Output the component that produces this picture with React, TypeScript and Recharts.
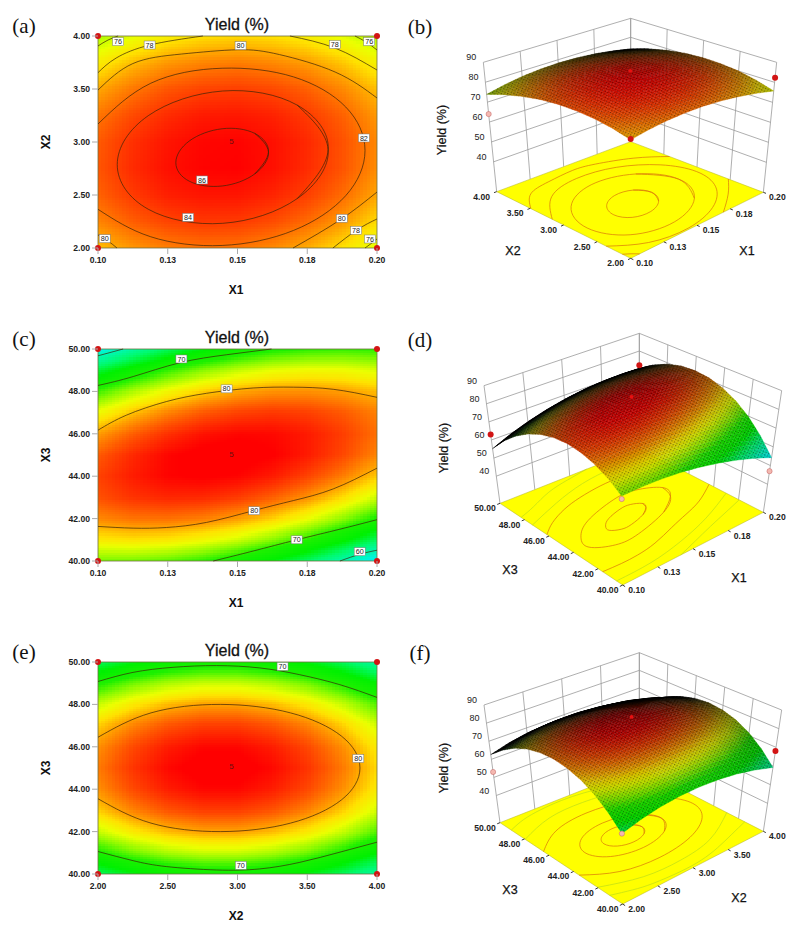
import React from "react";
import { ComposedChart, Line, Scatter, XAxis, YAxis, ReferenceArea } from "recharts";

type Pt = [number, number];

// axis ticks
const x1Ticks = [0.1, 0.125, 0.15, 0.175, 0.2];
const x1Labels = ["0.10", "0.13", "0.15", "0.18", "0.20"];
const x2Ticks = [2, 2.5, 3, 3.5, 4];
const x2Labels = ["2.00", "2.50", "3.00", "3.50", "4.00"];
const x3Ticks = [40, 42, 44, 46, 48, 50];
const x3Labels = ["40.00", "42.00", "44.00", "46.00", "48.00", "50.00"];
const zTicks = [40, 50, 60, 70, 80, 90];

// grid positions of the yield readings
const x1Grid = [0.1, 0.1125, 0.125, 0.1375, 0.15, 0.1625, 0.175, 0.1875, 0.2];
const x2Grid = [2, 2.25, 2.5, 2.75, 3, 3.25, 3.5, 3.75, 4];
const x2Rows = [4, 3.75, 3.5, 3.25, 3, 2.75, 2.5, 2.25, 2];
const x3Rows = [50, 49, 48, 47, 46, 45, 44, 43, 42, 41, 40];

// yield, rows X2 = 4 .. 2
const yieldA = [
  [73.9, 75.8, 77.2, 78.0, 78.3, 78.0, 77.2, 75.8, 73.9],
  [77.3, 79.2, 80.5, 81.2, 81.5, 81.1, 80.3, 78.9, 76.9],
  [79.9, 81.7, 83.0, 83.7, 83.9, 83.5, 82.6, 81.1, 79.1],
  [81.8, 83.5, 84.7, 85.4, 85.5, 85.1, 84.1, 82.6, 80.5],
  [82.8, 84.5, 85.6, 86.2, 86.3, 85.8, 84.8, 83.2, 81.1],
  [83.0, 84.7, 85.8, 86.3, 86.4, 85.8, 84.7, 83.1, 80.9],
  [82.5, 84.1, 85.2, 85.6, 85.6, 85.0, 83.9, 82.2, 80.0],
  [81.2, 82.7, 83.7, 84.2, 84.1, 83.4, 82.2, 80.5, 78.2],
  [79.1, 80.6, 81.5, 81.9, 81.8, 81.1, 79.8, 78.0, 75.7],
];

// yield, rows X3 = 50 .. 40
const yieldC = [
  [55.2, 59.3, 62.7, 65.5, 67.7, 69.3, 70.2, 70.5, 70.2],
  [63.8, 67.4, 70.4, 72.8, 74.6, 75.8, 76.3, 76.2, 75.4],
  [70.8, 74.0, 76.6, 78.6, 80.0, 80.7, 80.8, 80.3, 79.2],
  [76.3, 79.1, 81.3, 82.9, 83.8, 84.2, 83.9, 82.9, 81.4],
  [80.3, 82.7, 84.5, 85.7, 86.2, 86.1, 85.4, 84.0, 82.0],
  [82.8, 84.8, 86.2, 86.9, 87.0, 86.5, 85.4, 83.6, 81.2],
  [83.8, 85.3, 86.3, 86.6, 86.3, 85.4, 83.8, 81.6, 78.8],
  [83.2, 84.4, 84.9, 84.8, 84.1, 82.7, 80.8, 78.2, 75.0],
  [81.1, 81.9, 82.0, 81.5, 80.3, 78.6, 76.2, 73.2, 69.6],
  [77.5, 77.9, 77.6, 76.6, 75.1, 72.9, 70.1, 66.7, 62.6],
  [72.4, 72.3, 71.6, 70.3, 68.3, 65.7, 62.5, 58.7, 54.2],
];

// yield, rows X3 = 50 .. 40
const yieldE = [
  [62.6, 65.3, 67.1, 68.0, 68.0, 67.1, 65.4, 62.7, 59.2],
  [69.4, 72.1, 73.9, 74.8, 74.8, 73.9, 72.2, 69.5, 66.0],
  [74.8, 77.5, 79.3, 80.2, 80.2, 79.3, 77.6, 74.9, 71.4],
  [78.6, 81.3, 83.1, 84.0, 84.0, 83.1, 81.4, 78.7, 75.2],
  [80.8, 83.5, 85.3, 86.2, 86.2, 85.3, 83.6, 80.9, 77.4],
  [81.6, 84.3, 86.1, 87.0, 87.0, 86.1, 84.4, 81.7, 78.2],
  [80.8, 83.5, 85.3, 86.2, 86.2, 85.3, 83.6, 80.9, 77.4],
  [78.6, 81.3, 83.1, 84.0, 84.0, 83.1, 81.4, 78.7, 75.2],
  [74.8, 77.5, 79.3, 80.2, 80.2, 79.3, 77.6, 74.9, 71.4],
  [69.4, 72.1, 73.9, 74.8, 74.8, 73.9, 72.2, 69.5, 66.0],
  [62.6, 65.3, 67.1, 68.0, 68.0, 67.1, 65.4, 62.7, 59.2],
];

// contour lines panel (a), closed ones overlap a little where they meet
const a86: Pt[] = [[0.1562, 2.699], [0.1611, 2.905], [0.1562, 3.081], [0.1445, 3.125], [0.1328, 3.011], [0.1279, 2.805], [0.1328, 2.629], [0.1445, 2.585], [0.1562, 2.699], [0.1611, 2.905], [0.1562, 3.081]];
const a84: Pt[] = [[0.1714, 2.466], [0.1825, 2.927], [0.1714, 3.348], [0.1447, 3.481], [0.118, 3.248], [0.1069, 2.787], [0.118, 2.366], [0.1447, 2.233], [0.1714, 2.466], [0.1825, 2.927], [0.1714, 3.348]];
const a82: Pt[] = [[0.1, 3.17], [0.1189, 3.554], [0.1445, 3.696], [0.1701, 3.614], [0.1888, 3.33], [0.1957, 2.92], [0.1888, 2.494], [0.1701, 2.166], [0.1445, 2.024], [0.1189, 2.106], [0.1, 2.365]];
const a80Top: Pt[] = [[0.1, 3.49], [0.1125, 3.74], [0.13, 3.83], [0.15, 3.87], [0.165, 3.825], [0.185, 3.66], [0.2, 3.415]];
const a80Left: Pt[] = [[0.1, 2.123], [0.1036, 2.066], [0.1068, 2.0]];
const a80Right: Pt[] = [[0.1699, 2.0], [0.1867, 2.264], [0.2, 2.528]];
const a78Left: Pt[] = [[0.1, 3.654], [0.1065, 3.792], [0.1186, 3.915], [0.1376, 4.0]];
const a78Right: Pt[] = [[0.1688, 4.0], [0.1849, 3.887], [0.2, 3.679]];
const a78Low: Pt[] = [[0.1842, 2.0], [0.1928, 2.17], [0.2, 2.274]];
const a76Left: Pt[] = [[0.1, 3.906], [0.1036, 3.962], [0.1072, 4.0]];
const a76Right: Pt[] = [[0.1921, 4.0], [0.1961, 3.943], [0.2, 3.868]];
const a76Low: Pt[] = [[0.1957, 2.0], [0.1978, 2.04], [0.2, 2.085]];

// contour lines panel (c)
const c60Top: Pt[] = [[0.1, 49.68], [0.109, 50]];
const c70Top: Pt[] = [[0.1, 48.28], [0.1126, 48.7], [0.1293, 49.35], [0.1461, 49.73], [0.1622, 50]];
const c80Top: Pt[] = [[0.1, 46.17], [0.1102, 46.88], [0.1245, 47.52], [0.1389, 47.91], [0.1556, 48.16], [0.17, 48.2], [0.1843, 48.1], [0.2, 47.72]];
const c80Low: Pt[] = [[0.1, 41.63], [0.1126, 41.55], [0.1245, 41.58], [0.1389, 41.82], [0.1556, 42.37], [0.17, 42.85], [0.1843, 43.4], [0.2, 44.38]];
const c70Low: Pt[] = [[0.1413, 40], [0.1556, 40.47], [0.1712, 41], [0.1867, 41.5], [0.2, 41.95]];
const c60Low: Pt[] = [[0.1867, 40], [0.1939, 40.32], [0.2, 40.51]];
// extra lines only seen on the floor of (d)
const d86: Pt[] = [[0.153, 44.4], [0.1591, 44.85], [0.1605, 45.3], [0.1549, 45.64], [0.1476, 45.64], [0.1364, 45.3], [0.1303, 44.85], [0.1289, 44.4], [0.1345, 44.06], [0.1418, 44.06], [0.153, 44.4], [0.1591, 44.85], [0.1605, 45.3]];
const d85: Pt[] = [[0.163, 43.85], [0.1766, 44.85], [0.1797, 45.85], [0.1673, 46.6], [0.1511, 46.6], [0.1264, 45.85], [0.1127, 44.85], [0.1097, 43.85], [0.1221, 43.1], [0.1383, 43.1], [0.163, 43.85], [0.1766, 44.85], [0.1797, 45.85]];
const d75Top: Pt[] = [[0.1, 47.35], [0.125, 48.25], [0.15, 48.95], [0.175, 49.2], [0.2, 49.05]];
const d75Low: Pt[] = [[0.1, 40.5], [0.125, 40.55], [0.15, 41], [0.175, 41.8], [0.2, 43]];

// contour lines panel (e)
const e70Top: Pt[] = [[2, 49.08], [2.251, 49.51], [2.538, 49.75], [2.849, 49.83], [3.16, 49.72], [3.447, 49.4], [3.734, 48.93], [4, 48.33]];
const e70Low: Pt[] = [[2, 41.06], [2.251, 40.63], [2.49, 40.35], [2.849, 40.19], [3.16, 40.24], [3.447, 40.55], [3.734, 41.03], [4, 41.5]];
const e80: Pt[] = [[2, 46.45], [2.38, 47.6], [2.88, 48], [3.38, 47.6], [3.746, 46.5], [3.878, 45], [3.746, 43.5], [3.38, 42.4], [2.88, 42], [2.38, 42.4], [2, 43.55]];
// extra lines only seen on the floor of (f)
const f86: Pt[] = [[3.07, 44.37], [3.15, 45], [3.07, 45.63], [2.88, 45.89], [2.69, 45.63], [2.61, 45], [2.69, 44.37], [2.88, 44.11], [3.07, 44.37], [3.15, 45], [3.07, 45.63]];
const f85: Pt[] = [[3.265, 43.83], [3.424, 45], [3.265, 46.17], [2.88, 46.66], [2.495, 46.17], [2.336, 45], [2.495, 43.83], [2.88, 43.34], [3.265, 43.83], [3.424, 45], [3.265, 46.17]];
const f75Top: Pt[] = [[2, 47.95], [2.5, 48.82], [3, 48.98], [3.5, 48.52], [4, 47.05]];
const f75Low: Pt[] = [[2, 42.05], [2.5, 41.18], [3, 41.02], [3.5, 41.48], [4, 42.95]];

// contour labels
const labelsA: [number, number, string][] = [[0.1072, 3.947, "76"], [0.1185, 3.915, "78"], [0.1511, 3.909, "80"], [0.1849, 3.92, "78"], [0.1972, 3.947, "76"], [0.1953, 3.038, "82"], [0.1373, 2.642, "86"], [0.1323, 2.289, "84"], [0.1874, 2.28, "80"], [0.1925, 2.167, "78"], [0.1975, 2.085, "76"], [0.1024, 2.088, "80"]];
const labelsC: [number, number, string][] = [[0.1299, 49.53, "70"], [0.1461, 48.12, "80"], [0.156, 42.37, "80"], [0.1712, 41, "70"], [0.1938, 40.44, "60"]];
const labelsE: [number, number, string][] = [[3.323, 49.79, "70"], [3.866, 45.45, "80"], [3.024, 40.41, "70"]];

// centre point marks
const centreA: Pt = [0.1478, 3.01];
const centreC: Pt = [0.1478, 45.06];
const centreE: Pt = [2.957, 45.09];

// design points on the 3D plots [x, y, yield]
const redB = [[0.2, 2, 82.3], [0.1, 2, 79.5]];
const pinkB = [[0.1, 4, 64]];
const midB = [[0.15, 3, 87]];
const redD = [[0.1, 50, 63], [0.2, 50, 72]];
const pinkD = [[0.2, 40, 47], [0.1, 40, 70.8]];
const midD = [[0.15, 45, 88]];
const redF = [[4, 40, 68]];
const pinkF = [[2, 50, 53], [2, 40, 62.6]];
const midF = [[3, 45, 87.6]];

const stops: [number, number, number, number][] = [
  [50, 0, 190, 255],
  [56, 0, 245, 225],
  [62, 0, 250, 110],
  [66, 0, 240, 0],
  [70, 30, 240, 0],
  [73, 140, 250, 0],
  [76, 235, 255, 0],
  [78, 255, 225, 0],
  [80, 255, 165, 0],
  [83, 255, 85, 0],
  [86.4, 255, 0, 0],
];

const rgbAt = (v: number): number[] => {
  if (v <= stops[0][0]) return stops[0].slice(1);
  for (let i = 1; i < stops.length; i++) {
    if (v <= stops[i][0]) {
      const a = stops[i - 1];
      const b = stops[i];
      const f = (v - a[0]) / (b[0] - a[0]);
      return [1, 2, 3].map((k) => a[k] + (b[k] - a[k]) * f);
    }
  }
  return stops[stops.length - 1].slice(1);
};

const fillOf = (v: number, dark = 0) => {
  const c = rgbAt(v).map((k) => Math.round(k * (1 - dark)));
  return `rgb(${c[0]},${c[1]},${c[2]})`;
};

// one grid cell shaded across its four corners
const Patch = (props: any) => {
  const { cx, cy, payload } = props;
  const { corners, steps, texture } = payload;
  const mix = (u: number, w: number, k: number) =>
    corners[0][k] * (1 - u) * (1 - w) +
    corners[1][k] * u * (1 - w) +
    corners[2][k] * u * w +
    corners[3][k] * (1 - u) * w;
  const polys = [];
  for (let i = 0; i < steps; i++) {
    for (let j = 0; j < steps; j++) {
      const u0 = i / steps;
      const u1 = (i + 1) / steps;
      const w0 = j / steps;
      const w1 = (j + 1) / steps;
      const pts = [
        [u0, w0],
        [u1, w0],
        [u1, w1],
        [u0, w1],
      ]
        .map(([u, w]) => `${(cx + mix(u, w, 0)).toFixed(2)},${(cy + mix(u, w, 1)).toFixed(2)}`)
        .join(" ");
      const uc = (u0 + u1) / 2;
      const wc = (w0 + w1) / 2;
      const fill = fillOf(mix(uc, wc, 2), mix(uc, wc, 3));
      polys.push(
        texture ? (
          <polygon key={`${i}-${j}`} points={pts} fill={fill} stroke={fill} strokeWidth={0.35} />
        ) : (
          <polygon key={`${i}-${j}`} points={pts} fill={fill} shapeRendering="crispEdges" />
        )
      );
    }
  }
  const outline = corners.map((c: number[]) => `${cx + c[0]},${cy + c[1]}`).join(" ");
  return (
    <g>
      {polys}
      {texture && <polygon points={outline} fill="url(#meshDots)" />}
    </g>
  );
};

const Dot = ({ cx, cy }: any) => <circle cx={cx} cy={cy} r={3} fill="#d21414" />;
const MidDot = ({ cx, cy }: any) => <circle cx={cx} cy={cy} r={1.9} fill="#e81010" />;
const PinkDot = ({ cx, cy }: any) => <circle cx={cx} cy={cy} r={2.6} fill="#f4b8b0" stroke="#c06060" strokeWidth={0.5} />;

const ContourTag = ({ cx, cy, payload }: any) => (
  <g>
    <rect x={cx - 5.5} y={cy - 4} width={11} height={8} fill="#fff" stroke="#777" strokeWidth={0.5} />
    <text x={cx} y={cy + 2.6} textAnchor="middle" fontSize={7.2} fontFamily="Liberation Sans" fill="#222">
      {payload.text}
    </text>
  </g>
);

const CentreTag = ({ cx, cy }: any) => (
  <text x={cx} y={cy + 3} textAnchor="middle" fontSize={8} fontFamily="Liberation Sans" fill="#6a1010">
    5
  </text>
);

const Caption = ({ left, top, size, family, weight, rotate, stroke, children }: any) => (
  <div
    style={{
      position: "absolute",
      left,
      top,
      transform: `translate(-50%,-50%) rotate(${rotate || 0}deg)`,
      fontSize: size,
      fontFamily: family || "Liberation Sans",
      fontWeight: weight || 400,
      color: "#111",
      whiteSpace: "nowrap",
      lineHeight: 1,
      WebkitTextStroke: stroke ? `${stroke}px #111` : undefined,
    }}
  >
    {children}
  </div>
);

const PLOT_W = 279;
const PLOT_H = 212;
const axisFont = { fontSize: 8.6, fontFamily: "Liberation Sans", fontWeight: 700, fill: "#222" };

const ContourPanel = ({ top, letter, xs, ys, grid, xTicks, xLabels, yTicks, yLabels, xName, yName, lines, tags, centre }: any) => {
  const dx = PLOT_W / (xs.length - 1);
  const dy = PLOT_H / (ys.length - 1);
  const cells: any[] = [];
  for (let r = 0; r < ys.length - 1; r++) {
    for (let c = 0; c < xs.length - 1; c++) {
      cells.push({
        x: xs[c],
        y: ys[r],
        steps: 10,
        corners: [
          [0, 0, grid[r][c], 0],
          [dx, 0, grid[r][c + 1], 0],
          [dx, dy, grid[r + 1][c + 1], 0],
          [0, dy, grid[r + 1][c], 0],
        ],
      });
    }
  }
  const xEnds = [xTicks[0], xTicks[xTicks.length - 1]];
  const yEnds = [yTicks[0], yTicks[yTicks.length - 1]];
  const corners = xEnds.flatMap((x: number) => yEnds.map((y: number) => ({ x, y })));
  return (
    <div style={{ position: "absolute", left: 0, top, width: 400, height: 310 }}>
      <Caption left={24} top={26} size={21} family="Liberation Serif">
        {letter}
      </Caption>
      <Caption left={237} top={25} size={16} stroke={0.3}>
        Yield (%)
      </Caption>
      <Caption left={236} top={290} size={12} weight={700}>
        {xName}
      </Caption>
      <Caption left={46} top={142} size={12} weight={700} rotate={-90}>
        {yName}
      </Caption>
      <ComposedChart width={400} height={310} margin={{ top: 36, right: 23, bottom: 12, left: 48 }}>
        <XAxis
          dataKey="x"
          type="number"
          domain={xEnds}
          ticks={xTicks}
          interval={0}
          height={50}
          tickSize={6}
          tickMargin={3}
          tickLine={{ stroke: "#aaa" }}
          axisLine={false}
          tick={axisFont}
          tickFormatter={(v: number) => xLabels[xTicks.indexOf(v)]}
        />
        <YAxis
          dataKey="y"
          type="number"
          domain={yEnds}
          ticks={yTicks}
          interval={0}
          width={50}
          tickSize={6}
          tickMargin={2}
          tickLine={{ stroke: "#aaa" }}
          axisLine={false}
          tick={axisFont}
          tickFormatter={(v: number) => yLabels[yTicks.indexOf(v)]}
        />
        <Scatter data={cells} shape={Patch} isAnimationActive={false} zIndex={100} />
        <ReferenceArea x1={xEnds[0]} x2={xEnds[1]} y1={yEnds[0]} y2={yEnds[1]} fill="none" stroke="#6f7040" strokeWidth={0.8} zIndex={150} />
        {lines.map((pts: Pt[], i: number) => (
          <Line
            key={i}
            data={pts.map(([x, y]) => ({ x, y }))}
            dataKey="y"
            type="natural"
            stroke="#3a2408"
            strokeWidth={0.7}
            dot={false}
            activeDot={false}
            isAnimationActive={false}
            zIndex={200}
          />
        ))}
        <Scatter data={tags.map(([x, y, text]: any) => ({ x, y, text }))} shape={ContourTag} isAnimationActive={false} zIndex={300} />
        <Scatter data={[{ x: centre[0], y: centre[1] }]} shape={CentreTag} isAnimationActive={false} zIndex={300} />
        <Scatter data={corners} shape={Dot} isAnimationActive={false} zIndex={300} />
      </ComposedChart>
    </div>
  );
};

// base and top corners of the 3D box, front / right / back / left
const geoB = { base: [[692, 775], [1090, 577], [692, 425], [290, 575]], roof: [[692, 348], [1130, 187], [692, 55], [250, 187]] };
const geoD = { base: [[668, 795], [1090, 577], [718, 385], [300, 550]], roof: [[664, 429], [1145, 212], [718, 40], [252, 197]] };
const geoF = { base: [[668, 822], [1090, 604], [718, 413], [300, 578]], roof: [[664, 457], [1145, 240], [718, 68], [252, 225]] };
const Z_LOW = 25;
const Z_HIGH = 90;

const makeProjector = (geo: any) => (s: number, t: number, z: number) => {
  const bilerp = (q: number[][], k: number) =>
    q[0][k] * (1 - s) * (1 - t) + q[1][k] * s * (1 - t) + q[2][k] * s * t + q[3][k] * (1 - s) * t;
  const f = (z - Z_LOW) / (Z_HIGH - Z_LOW);
  return {
    px: (bilerp(geo.base, 0) * (1 - f) + bilerp(geo.roof, 0) * f) / 3,
    py: (bilerp(geo.base, 1) * (1 - f) + bilerp(geo.roof, 1) * f) / 3,
  };
};

const Label3d = ({ cx, cy, payload }: any) => (
  <text x={cx + payload.ox} y={cy + payload.oy} textAnchor="middle" fontSize={payload.size} fontWeight={payload.weight} fontFamily="Liberation Sans" fill="#222">
    {payload.text}
  </text>
);

const wireProps = { dataKey: "py", type: "linear" as const, dot: false, activeDot: false, isAnimationActive: false };

const SurfacePanel = ({ top, letter, letterTop, geo, xs, ys, grid, xTicks, xLabels, yTicks, yLabels, floorLines, red, pink, mid, titles }: any) => {
  const project = makeProjector(geo);
  const xMin = xs[0];
  const xSpan = xs[xs.length - 1] - xMin;
  const yMin = Math.min(...ys);
  const ySpan = Math.max(...ys) - yMin;
  const toS = (x: number) => (x - xMin) / xSpan;
  const toT = (y: number) => (y - yMin) / ySpan;

  const nodes = ys.map((y: number, r: number) => xs.map((x: number, c: number) => project(toS(x), toT(y), grid[r][c])));
  const rawArea = (r: number, c: number) => {
    const r0 = Math.max(r - 1, 0);
    const r1 = Math.min(r + 1, ys.length - 1);
    const c0 = Math.max(c - 1, 0);
    const c1 = Math.min(c + 1, xs.length - 1);
    const ax = (nodes[r][c1].px - nodes[r][c0].px) / (c1 - c0);
    const ay = (nodes[r][c1].py - nodes[r][c0].py) / (c1 - c0);
    const bx = (nodes[r1][c].px - nodes[r0][c].px) / (r1 - r0);
    const by = (nodes[r1][c].py - nodes[r0][c].py) / (r1 - r0);
    return Math.abs(ax * by - ay * bx);
  };
  const areas = ys.map((_: number, r: number) => xs.map((_x: number, c: number) => rawArea(r, c)));
  const maxArea = Math.max(...areas.flat());
  const darkAt = (r: number, c: number) => Math.min(1, 0.13 + 1.2 * Math.pow(1 - areas[r][c] / maxArea, 2.4));

  // back to front so the nearer cells paint over the ridge
  const cells: any[] = [];
  for (let r = 0; r < ys.length - 1; r++) {
    for (let c = xs.length - 2; c >= 0; c--) {
      const n = nodes[r][c];
      const corner = (rr: number, cc: number) => [nodes[rr][cc].px - n.px, nodes[rr][cc].py - n.py, grid[rr][cc], darkAt(rr, cc)];
      cells.push({
        px: n.px,
        py: n.py,
        steps: 5,
        texture: true,
        corners: [corner(r, c), corner(r, c + 1), corner(r + 1, c + 1), corner(r + 1, c)],
      });
    }
  }

  const f0 = project(0, 0, Z_LOW);
  const floorCorner = (s: number, t: number) => {
    const p = project(s, t, Z_LOW);
    return [p.px - f0.px, p.py - f0.py, 0, 0];
  };
  const FloorShape = ({ cx, cy }: any) => (
    <polygon
      points={[floorCorner(0, 0), floorCorner(1, 0), floorCorner(1, 1), floorCorner(0, 1)].map((c) => `${cx + c[0]},${cy + c[1]}`).join(" ")}
      fill="#ffff00"
      stroke="#b0b020"
      strokeWidth={0.5}
    />
  );

  const wires: any[][] = [];
  xTicks.forEach((x: number) => wires.push([project(toS(x), 1, Z_LOW), project(toS(x), 1, Z_HIGH)]));
  yTicks.forEach((y: number) => wires.push([project(1, toT(y), Z_LOW), project(1, toT(y), Z_HIGH)]));
  zTicks.forEach((z: number) => wires.push([project(0, 1, z), project(1, 1, z), project(1, 0, z)]));

  const marks: any[][] = [];
  const labels: any[] = [];
  xTicks.forEach((x: number, i: number) => {
    marks.push([project(toS(x), 0, Z_LOW), project(toS(x), -0.02, Z_LOW)]);
    labels.push({ ...project(toS(x), 0, Z_LOW), ox: 14, oy: 8, text: xLabels[i], size: 8.6, weight: 700 });
  });
  yTicks.forEach((y: number, i: number) => {
    marks.push([project(0, toT(y), Z_LOW), project(-0.02, toT(y), Z_LOW)]);
    labels.push({ ...project(0, toT(y), Z_LOW), ox: -15, oy: 8, text: yLabels[i], size: 8.6, weight: 700 });
  });
  zTicks.forEach((z: number) => labels.push({ ...project(0, 1, z), ox: -12, oy: -2, text: String(z), size: 9, weight: 400 }));

  const toPoints = (list: number[][]) => list.map(([x, y, z]) => project(toS(x), toT(y), z));

  return (
    <div style={{ position: "absolute", left: 400, top, width: 398, height: 310 }}>
      <Caption left={20} top={letterTop} size={21} family="Liberation Serif">
        {letter}
      </Caption>
      <Caption left={titles.z[0]} top={titles.z[1]} size={12.5} rotate={-90} stroke={0.2}>
        Yield (%)
      </Caption>
      <Caption left={titles.a[0]} top={titles.a[1]} size={12.5} stroke={0.25}>
        {titles.a[2]}
      </Caption>
      <Caption left={titles.b[0]} top={titles.b[1]} size={12.5} stroke={0.25}>
        {titles.b[2]}
      </Caption>
      <ComposedChart width={398} height={310} margin={{ top: 0, right: 0, bottom: 0, left: 0 }}>
        <XAxis dataKey="px" type="number" domain={[0, 398]} hide />
        <YAxis dataKey="py" type="number" domain={[0, 310]} reversed hide />
        {wires.map((pts, i) => (
          <Line key={`w${i}`} data={pts} stroke="#9a9a9a" strokeWidth={0.8} zIndex={10} {...wireProps} />
        ))}
        <Scatter data={[f0]} shape={FloorShape} isAnimationActive={false} zIndex={20} />
        {floorLines.map((l: any, i: number) => (
          <Line
            key={`f${i}`}
            data={l.pts.map(([x, y]: Pt) => project(toS(x), toT(y), Z_LOW))}
            stroke={l.level >= 78 ? "#d8720a" : "#bcdc18"}
            strokeWidth={0.7}
            zIndex={30}
            {...wireProps}
            type="natural"
          />
        ))}
        {marks.map((pts, i) => (
          <Line key={`m${i}`} data={pts} stroke="#222" strokeWidth={0.9} zIndex={30} {...wireProps} />
        ))}
        <Scatter data={cells} shape={Patch} isAnimationActive={false} zIndex={40} />
        <Scatter data={toPoints(mid)} shape={MidDot} isAnimationActive={false} zIndex={50} />
        <Scatter data={toPoints(red)} shape={Dot} isAnimationActive={false} zIndex={50} />
        <Scatter data={toPoints(pink)} shape={PinkDot} isAnimationActive={false} zIndex={50} />
        <Scatter data={labels} shape={Label3d} isAnimationActive={false} zIndex={60} />
      </ComposedChart>
    </div>
  );
};

const withLevel = (level: number, list: Pt[][]) => list.map((pts) => ({ level, pts }));

export default function App() {
  return (
    <div style={{ position: "absolute", left: 0, top: 0, width: 798, height: 931, background: "#fff" }}>
      <svg width={0} height={0} style={{ position: "absolute" }}>
        <defs>
          <pattern id="meshDots" width={2.8} height={2.8} patternUnits="userSpaceOnUse" patternTransform="rotate(26)">
            <rect width={1.2} height={1.2} fill="#000" opacity={0.42} />
          </pattern>
        </defs>
      </svg>
      <ContourPanel
        top={0}
        letter="(a)"
        xs={x1Grid}
        ys={x2Rows}
        grid={yieldA}
        xTicks={x1Ticks}
        xLabels={x1Labels}
        yTicks={x2Ticks}
        yLabels={x2Labels}
        xName="X1"
        yName="X2"
        lines={[a86, a84, a82, a80Top, a80Left, a80Right, a78Left, a78Right, a78Low, a76Left, a76Right, a76Low]}
        tags={labelsA}
        centre={centreA}
      />
      <ContourPanel
        top={313}
        letter="(c)"
        xs={x1Grid}
        ys={x3Rows}
        grid={yieldC}
        xTicks={x1Ticks}
        xLabels={x1Labels}
        yTicks={x3Ticks}
        yLabels={x3Labels}
        xName="X1"
        yName="X3"
        lines={[c60Top, c70Top, c80Top, c80Low, c70Low, c60Low]}
        tags={labelsC}
        centre={centreC}
      />
      <ContourPanel
        top={626}
        letter="(e)"
        xs={x2Grid}
        ys={x3Rows}
        grid={yieldE}
        xTicks={x2Ticks}
        xLabels={x2Labels}
        yTicks={x3Ticks}
        yLabels={x3Labels}
        xName="X2"
        yName="X3"
        lines={[e70Top, e70Low, e80]}
        tags={labelsE}
        centre={centreE}
      />
      <SurfacePanel
        top={0}
        letter="(b)"
        letterTop={27}
        geo={geoB}
        xs={x1Grid}
        ys={x2Rows}
        grid={yieldA}
        xTicks={x1Ticks}
        xLabels={x1Labels}
        yTicks={x2Ticks}
        yLabels={x2Labels}
        floorLines={[...withLevel(86, [a86, a84, a82]), ...withLevel(80, [a80Top, a80Left, a80Right])]}
        red={redB}
        pink={pinkB}
        mid={midB}
        titles={{ z: [42, 130], a: [113, 251, "X2"], b: [347, 251, "X1"] }}
      />
      <SurfacePanel
        top={320}
        letter="(d)"
        letterTop={20}
        geo={geoD}
        xs={x1Grid}
        ys={x3Rows}
        grid={yieldC}
        xTicks={x1Ticks}
        xLabels={x1Labels}
        yTicks={x3Ticks}
        yLabels={x3Labels}
        floorLines={[...withLevel(86, [d86, d85, c80Top, c80Low]), ...withLevel(70, [d75Top, d75Low, c70Top, c70Low])]}
        red={redD}
        pink={pinkD}
        mid={midD}
        titles={{ z: [44, 128], a: [110, 250, "X3"], b: [339, 258, "X1"] }}
      />
      <SurfacePanel
        top={630}
        letter="(f)"
        letterTop={23}
        geo={geoF}
        xs={x2Grid}
        ys={x3Rows}
        grid={yieldE}
        xTicks={x2Ticks}
        xLabels={x2Labels}
        yTicks={x3Ticks}
        yLabels={x3Labels}
        floorLines={[...withLevel(86, [f86, f85, e80]), ...withLevel(70, [f75Top, f75Low, e70Top, e70Low])]}
        red={redF}
        pink={pinkF}
        mid={midF}
        titles={{ z: [44, 138], a: [110, 260, "X3"], b: [339, 268, "X2"] }}
      />
    </div>
  );
}
